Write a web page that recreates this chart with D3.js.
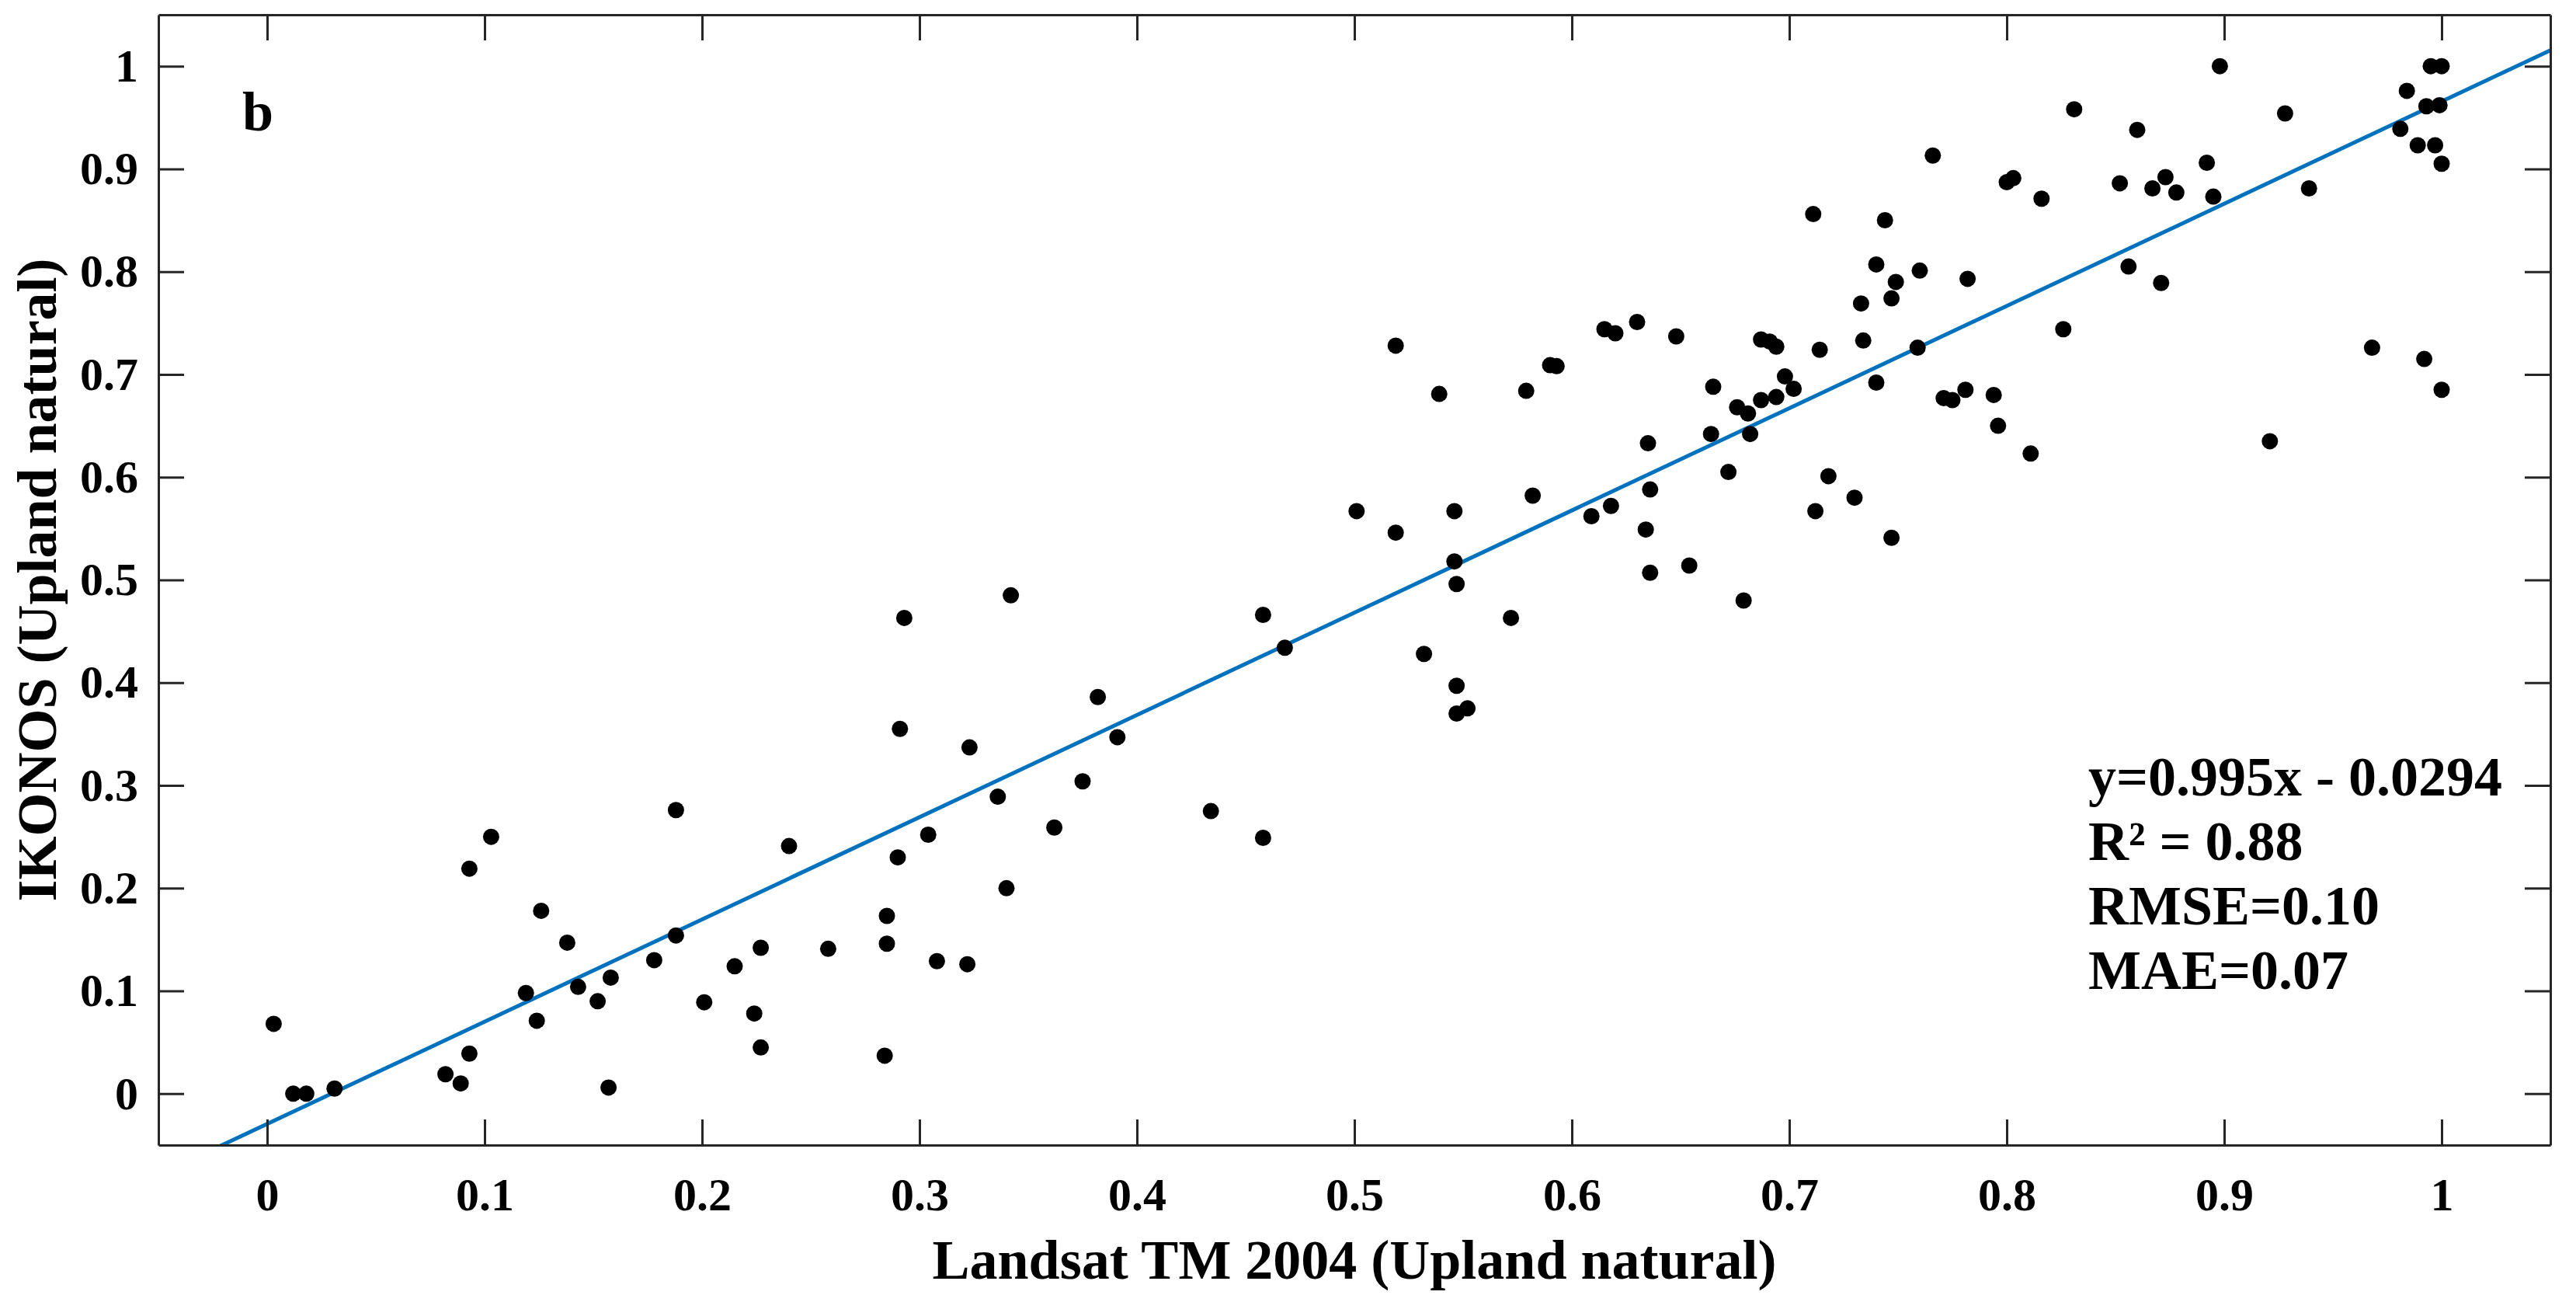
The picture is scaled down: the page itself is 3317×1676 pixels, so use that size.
<!DOCTYPE html>
<html>
<head>
<meta charset="utf-8">
<script src="https://cdn.jsdelivr.net/npm/d3@7"></script>
<style>
	body { margin: 0; background: #fff; }
	svg text { font-family: "Liberation Serif", "Times New Roman", serif; font-weight: bold; fill: #000; }
</style>
</head>
<body>
<div id="chart-div"></div>
<script>

// Landsat TM 2004 values (x) and IKONOS values (y), point by point
const landsat = [
	0.003, 0.012, 0.018, 0.031, 0.082, 0.089, 0.093, 0.093, 0.103, 0.119,
	0.124, 0.126, 0.138, 0.143, 0.152, 0.158, 0.157, 0.178, 0.188, 0.188,
	0.201, 0.215, 0.224, 0.227, 0.227, 0.240, 0.258,
	0.284, 0.285, 0.285, 0.290, 0.291, 0.293, 0.304, 0.308, 0.322, 0.323,
	0.336, 0.340, 0.342, 0.362, 0.375, 0.382, 0.391, 0.434, 0.458, 0.458,
	0.468, 0.501, 0.519, 0.532, 0.546, 0.546, 0.547, 0.547, 0.547, 0.552,
	0.519, 0.539, 0.572, 0.579, 0.582, 0.590, 0.593, 0.609, 0.618, 0.615,
	0.620, 0.630, 0.635, 0.636, 0.634, 0.636, 0.648, 0.654, 0.665, 0.664,
	0.672, 0.676, 0.681, 0.682, 0.679, 0.687, 0.694, 0.687, 0.691, 0.694,
	0.698, 0.702, 0.711, 0.714, 0.712, 0.718, 0.730, 0.733, 0.734, 0.740,
	0.740, 0.744, 0.749, 0.747, 0.747, 0.759, 0.760, 0.766, 0.771, 0.775,
	0.781, 0.782, 0.794, 0.796, 0.800, 0.803,
	0.811, 0.816, 0.826, 0.831, 0.852, 0.856, 0.860, 0.867, 0.871, 0.873,
	0.878, 0.892, 0.895, 0.898, 0.921, 0.928, 0.939, 0.968, 0.981, 0.984,
	0.989, 0.992, 0.993, 0.995, 0.997, 0.999, 1.000, 1.000, 1.000
];
const ikonos = [
	0.068, 0.000, 0.000, 0.005, 0.019, 0.010, 0.039, 0.219, 0.250, 0.098,
	0.071, 0.178, 0.147, 0.104, 0.090, 0.113, 0.006, 0.130, 0.154, 0.276,
	0.089, 0.124, 0.078, 0.142, 0.045, 0.241, 0.141,
	0.037, 0.173, 0.146, 0.230, 0.355, 0.463, 0.252, 0.129, 0.126, 0.337,
	0.289, 0.200, 0.485, 0.259, 0.304, 0.386, 0.347, 0.275, 0.249, 0.466,
	0.434, 0.567, 0.546, 0.428, 0.567, 0.518, 0.496, 0.397, 0.370, 0.375,
	0.728, 0.681, 0.463, 0.684, 0.582, 0.709, 0.708, 0.562, 0.572, 0.744,
	0.740, 0.751, 0.633, 0.588, 0.549, 0.507, 0.737, 0.514, 0.688, 0.642,
	0.605, 0.668, 0.662, 0.642, 0.480, 0.675, 0.678, 0.734, 0.732, 0.727,
	0.698, 0.686, 0.856, 0.724, 0.567, 0.601, 0.580, 0.769, 0.733, 0.692,
	0.807, 0.850, 0.790, 0.774, 0.541, 0.726, 0.801, 0.913, 0.677, 0.675,
	0.685, 0.793, 0.680, 0.650, 0.887, 0.891,
	0.623, 0.871, 0.744, 0.958, 0.886, 0.805, 0.938, 0.881, 0.789, 0.892,
	0.877, 0.906, 0.873, 1.000, 0.635, 0.954, 0.881, 0.726, 0.939, 0.976,
	0.923, 0.715, 0.961, 1.000, 0.923, 0.962, 1.000, 0.905, 0.685
];

const xTicks = [0, 0.1, 0.2, 0.3, 0.4, 0.5, 0.6, 0.7, 0.8, 0.9, 1];
const yTicks = [0, 0.1, 0.2, 0.3, 0.4, 0.5, 0.6, 0.7, 0.8, 0.9, 1];

// linear fit and stats
const slope = 0.995;
const intercept = -0.0294;
const statLines = ["y=0.995x - 0.0294", "R\u00b2 = 0.88", "RMSE=0.10", "MAE=0.07"];

const width = 3317;
const height = 1676;
const plotLeft = 204, plotRight = 3284, plotTop = 19, plotBottom = 1474;

const svg = d3.select("#chart-div")
				.append("svg")
				.attr("width", width)
				.attr("height", height)
				.attr("viewBox", `0 0 ${width} ${height}`);

const xScale = d3.scaleLinear()
				.domain([-0.05, 1.05])
				.range([plotLeft, plotRight]);
const yScale = d3.scaleLinear()
				.domain([-0.05, 1.05])
				.range([plotBottom, plotTop]);

svg.append("clipPath")
	.attr("id", "plot-clip")
	.append("rect")
	.attr("x", plotLeft)
	.attr("y", plotTop)
	.attr("width", plotRight - plotLeft)
	.attr("height", plotBottom - plotTop);

// fit line under the points
const lineX = xScale.domain();
svg.append("line")
	.attr("clip-path", "url(#plot-clip)")
	.attr("x1", xScale(lineX[0]))
	.attr("y1", yScale(slope * lineX[0] + intercept))
	.attr("x2", xScale(lineX[1]))
	.attr("y2", yScale(slope * lineX[1] + intercept))
	.attr("stroke", "#0072BD")
	.attr("stroke-width", 5);

const points = landsat.map((d, i) => ({ x: d, y: ikonos[i] }));

svg.selectAll("circle.pt")
	.data(points)
	.enter()
	.append("circle")
	.attr("class", "pt")
	.attr("cx", (d) => xScale(d.x))
	.attr("cy", (d) => yScale(d.y))
	.attr("r", 10.5)
	.attr("fill", "#000");

// axes, ticks pointing in, box all round
const tick = 33;

const xAxis = d3.axisBottom(xScale)
				.tickValues(xTicks)
				.tickFormat((d) => String(d))
				.tickSizeInner(-tick)
				.tickSizeOuter(0)
				.tickPadding(41);
svg.append("g")
	.attr("transform", `translate(0, ${plotBottom})`)
	.call(xAxis);

const yAxis = d3.axisLeft(yScale)
				.tickValues(yTicks)
				.tickFormat((d) => String(d))
				.tickSizeInner(-tick)
				.tickSizeOuter(0)
				.tickPadding(26);
svg.append("g")
	.attr("transform", `translate(${plotLeft}, 0)`)
	.call(yAxis);

svg.append("g")
	.attr("transform", `translate(0, ${plotTop})`)
	.call(d3.axisTop(xScale).tickValues(xTicks).tickFormat("").tickSizeInner(-tick).tickSizeOuter(0));

svg.append("g")
	.attr("transform", `translate(${plotRight}, 0)`)
	.call(d3.axisRight(yScale).tickValues(yTicks).tickFormat("").tickSizeInner(-tick).tickSizeOuter(0));

svg.selectAll(".domain, .tick line")
	.attr("stroke", "#262626")
	.attr("stroke-width", 3);

svg.selectAll(".tick text")
	.style("font-size", "60px")
	.attr("fill", "#000");

// axis titles
svg.append("text")
	.attr("x", (plotLeft + plotRight) / 2)
	.attr("y", 1646)
	.attr("text-anchor", "middle")
	.style("font-size", "72px")
	.text("Landsat TM 2004 (Upland natural)");

svg.append("text")
	.attr("transform", `translate(72, ${(plotTop + plotBottom) / 2}) rotate(-90)`)
	.attr("text-anchor", "middle")
	.style("font-size", "72px")
	.text("IKONOS (Upland natural)");

// panel letter
svg.append("text")
	.attr("x", 312)
	.attr("y", 168)
	.style("font-size", "72px")
	.text("b");

// fit statistics
svg.selectAll("text.stat")
	.data(statLines)
	.enter()
	.append("text")
	.attr("class", "stat")
	.attr("x", 2689)
	.attr("y", (d, i) => 1024 + i * 83)
	.style("font-size", "72px")
	.text((d) => d);

</script>
</body>
</html>
